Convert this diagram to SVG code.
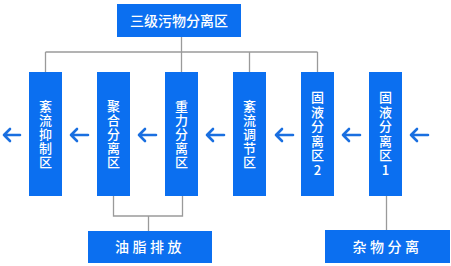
<svg xmlns="http://www.w3.org/2000/svg" width="451" height="266" viewBox="0 0 451 266">
<defs>
<style>
.box{fill:#0b6ff0}
.t{fill:#fff;font-family:"Noto Sans CJK SC","Noto Sans",sans-serif;font-size:14px;font-weight:500}
.tv{fill:#fff;font-family:"Noto Sans CJK SC","Noto Sans",sans-serif;font-size:13px;font-weight:500;text-anchor:middle;writing-mode:vertical-rl;text-orientation:upright;letter-spacing:1px}
.tv6{letter-spacing:1.5px}
.tb{fill:#fff;font-family:"Noto Sans CJK SC","Noto Sans",sans-serif;font-size:14px;font-weight:500;letter-spacing:3.5px;text-anchor:middle}
.ln{fill:none;stroke:#9a9a9a;stroke-width:1.3}
.ar{fill:none;stroke:#1a6fe0;stroke-width:2.6;stroke-linecap:round;stroke-linejoin:round}
</style>
</defs>
<rect width="451" height="266" fill="#fff"/>
<g id="connectors">
<path class="ln" d="M181.5 37V52M45.5 52H317.5M45.5 52V72M181.5 52V72M249.5 52V72M317.5 52V72"/>
<path class="ln" d="M113.5 196V216H182.5V196M148.5 216V231"/>
<path class="ln" d="M386.5 196V230"/>
<path class="ar" d="M20 135H4M10 129L4 135L10 141"/>
<path class="ar" d="M88 135H71M77 129L71 135L77 141"/>
<path class="ar" d="M156 135H139M145 129L139 135L145 141"/>
<path class="ar" d="M224 135H207M213 129L207 135L213 141"/>
<path class="ar" d="M293 135H276M282 129L276 135L282 141"/>
<path class="ar" d="M360 135H343M349 129L343 135L349 141"/>
<path class="ar" d="M428 135H411M417 129L411 135L417 141"/>
</g>
<g id="top">
<rect class="box" x="117" y="4" width="124" height="33"/>
<text class="t" x="179" y="26" text-anchor="middle">三级污物分离区</text>
</g>
<g id="n1">
<rect class="box" x="29" y="72" width="33" height="124"/>
<text class="tv" x="45.5" y="134.5">紊流抑制区</text>
</g>
<g id="n2">
<rect class="box" x="97" y="72" width="33" height="124"/>
<text class="tv" x="113.5" y="134.5">聚合分离区</text>
</g>
<g id="n3">
<rect class="box" x="165" y="72" width="33" height="124"/>
<text class="tv" x="181.5" y="134.5">重力分离区</text>
</g>
<g id="n4">
<rect class="box" x="233" y="72" width="33" height="124"/>
<text class="tv" x="249.5" y="134.5">紊流调节区</text>
</g>
<g id="n5">
<rect class="box" x="301" y="72" width="33" height="124"/>
<text class="tv tv6" x="317.5" y="134.5">固液分离区2</text>
</g>
<g id="n6">
<rect class="box" x="369" y="72" width="33" height="124"/>
<text class="tv tv6" x="385.5" y="134.5">固液分离区1</text>
</g>
<g id="oil">
<rect class="box" x="88" y="231" width="124" height="32"/>
<text class="tb" x="150" y="252">油脂排放</text>
</g>
<g id="debris">
<rect class="box" x="325" y="230" width="125" height="33"/>
<text class="tb" x="387.5" y="251.5">杂物分离</text>
</g>
</svg>
